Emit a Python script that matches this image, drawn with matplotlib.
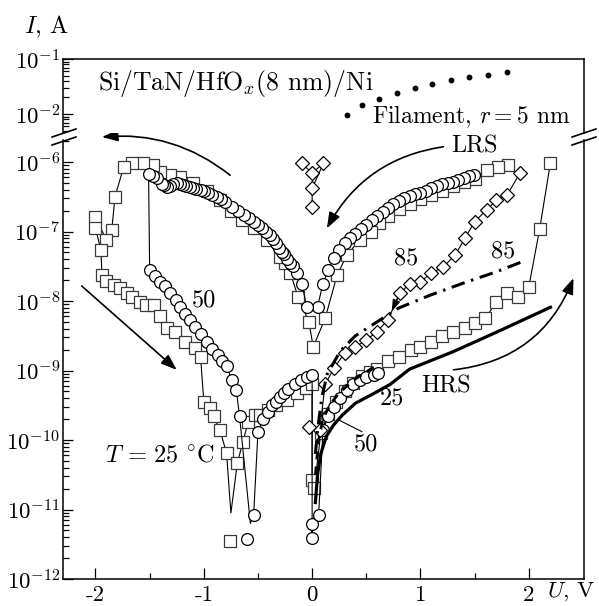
import numpy as np
import matplotlib.pyplot as plt
from matplotlib.lines import Line2D
from matplotlib.ticker import LogLocator, NullFormatter

plt.rcParams['font.family'] = 'cmr10'
plt.rcParams['mathtext.fontset'] = 'cm'
plt.rcParams['axes.unicode_minus'] = False
plt.rcParams['axes.formatter.use_mathtext'] = True

# values: U in V, log10(I / A)
# squares, T = 25 C
sq_lrs_pos_u = [1.81, 1.72, 1.61, 1.5, 1.4, 1.3, 1.2, 1.1, 1.0, 0.9, 0.8, 0.7, 0.62, 0.54, 0.44, 0.32, 0.23, 0.12, 0.01]
sq_lrs_pos_logi = [-6.04, -6.07, -6.12, -6.24, -6.29, -6.35, -6.41, -6.47, -6.53, -6.6, -6.68, -6.78, -6.88, -7.0, -7.12, -7.34, -7.63, -8.25, -8.66]
sq_lrs_neg_u = [-0.03, -0.13, -0.2, -0.25, -0.3, -0.42, -0.54, -0.65, -0.75, -0.85, -0.97, -1.1, -1.22, -1.31, -1.4, -1.47, -1.56, -1.66, -1.74]
sq_lrs_neg_logi = [-8.3, -7.94, -7.6, -7.45, -7.37, -7.12, -6.95, -6.83, -6.7, -6.55, -6.42, -6.3, -6.21, -6.19, -6.14, -6.04, -6.01, -6.01, -6.07]
sq_reset_u = [-1.82, -1.85, -1.9, -2.0, -2.0, -1.95, -1.94]
sq_reset_logi = [-6.5, -6.98, -7.12, -6.79, -6.95, -7.27, -7.63]
sq_hrs_neg_u = [-1.9, -1.83, -1.77, -1.71, -1.66, -1.59, -1.53, -1.46, -1.4, -1.34, -1.27, -1.17, -1.08, -1.03, -1.0,
                -0.94, -0.91, -0.85, -0.79, -0.75, -0.69, -0.64, -0.59, -0.53, -0.48, -0.41, -0.33, -0.23, -0.14, -0.06, 0.0]
sq_hrs_neg_logi = [-7.71, -7.77, -7.81, -7.88, -7.94, -8.01, -8.06, -8.06, -8.21, -8.39, -8.44, -8.59, -8.68, -8.8, -9.45,
                   -9.54, -9.66, -9.86, -10.19, -11.05, -10.33, -10.03, -9.74, -9.64, -9.64, -9.57, -9.5, -9.43, -9.33, -9.25, -9.2]
sq_hrs_pos_u = [0.0, 0.02, 0.08, 0.15, 0.22, 0.3, 0.38, 0.46, 0.53, 0.6, 0.7, 0.8, 0.91, 1.0, 1.1, 1.2, 1.3, 1.41, 1.5,
                1.6, 1.7, 1.8, 1.9, 2.0, 2.1, 2.2]
sq_hrs_pos_logi = [-10.58, -10.69, -9.9, -9.62, -9.45, -9.3, -9.18, -9.08, -9.02, -8.98, -8.86, -8.8, -8.7, -8.66, -8.59,
                   -8.51, -8.44, -8.39, -8.32, -8.25, -8.01, -7.89, -7.94, -7.8, -6.97, -6.01]

# circles, T = 50 C
ci_lrs_pos_u = [1.49, 1.45, 1.4, 1.35, 1.3, 1.25, 1.2, 1.15, 1.1, 1.05, 1.0, 0.95, 0.9, 0.85, 0.8, 0.75, 0.7, 0.65, 0.6,
                0.55, 0.5, 0.45, 0.4, 0.35, 0.3, 0.25, 0.2, 0.15, 0.1, 0.05]
ci_lrs_pos_logi = [-6.19, -6.2, -6.23, -6.26, -6.29, -6.3, -6.32, -6.35, -6.38, -6.41, -6.44, -6.46, -6.49, -6.52, -6.56,
                   -6.61, -6.66, -6.72, -6.78, -6.84, -6.91, -6.97, -7.03, -7.1, -7.17, -7.27, -7.38, -7.55, -7.75, -8.08]
ci_lrs_neg_u = [-0.05, -0.095, -0.14, -0.18, -0.2, -0.23, -0.26, -0.28, -0.31, -0.33, -0.36, -0.39, -0.43, -0.46, -0.5,
                -0.54, -0.58, -0.63, -0.68, -0.74, -0.8, -0.84, -0.88, -0.92, -0.96, -1.0, -1.03, -1.07, -1.1, -1.13,
                -1.16, -1.19, -1.22, -1.25, -1.28, -1.31, -1.34, -1.37, -1.39, -1.43, -1.47, -1.51]
ci_lrs_neg_logi = [-8.08, -7.75, -7.6, -7.5, -7.45, -7.39, -7.33, -7.29, -7.23, -7.17, -7.11, -7.05, -7.0, -6.95, -6.9,
                   -6.86, -6.81, -6.76, -6.7, -6.64, -6.58, -6.53, -6.5, -6.47, -6.44, -6.42, -6.4, -6.39, -6.38, -6.36,
                   -6.35, -6.33, -6.31, -6.3, -6.31, -6.34, -6.36, -6.33, -6.31, -6.23, -6.2, -6.17]
ci_hrs_neg_u = [-1.5, -1.45, -1.4, -1.36, -1.31, -1.26, -1.22, -1.17, -1.13, -1.08, -1.03, -0.97, -0.92, -0.87, -0.83,
                -0.79, -0.74, -0.7, -0.67, -0.57, -0.54, -0.5, -0.45, -0.41, -0.37, -0.33, -0.3, -0.26, -0.22, -0.16,
                -0.1, -0.05, 0.0]
ci_hrs_neg_logi = [-7.56, -7.64, -7.72, -7.79, -7.89, -7.99, -8.08, -8.18, -8.27, -8.37, -8.47, -8.59, -8.69, -8.78, -8.86,
                   -8.94, -9.14, -9.28, -9.66, -11.2, -11.08, -9.88, -9.7, -9.6, -9.5, -9.45, -9.38, -9.32, -9.26, -9.19,
                   -9.14, -9.1, -9.06]
ci_hrs_pos_u = [0.0, 0.0, 0.06, 0.1, 0.15, 0.2, 0.26, 0.32, 0.38, 0.44, 0.5, 0.57, 0.61]
ci_hrs_pos_logi = [-11.41, -11.21, -11.08, -9.86, -9.66, -9.52, -9.4, -9.28, -9.19, -9.14, -9.09, -9.06, -9.04]

# diamonds, T = 85 C
di_u = [1.92, 1.8, 1.7, 1.61, 1.5, 1.41, 1.32, 1.21, 1.1, 1.0, 0.9, 0.81, 0.7, 0.6, 0.5, 0.4, 0.3, 0.2, 0.12, 0.07, -0.03]
di_logi = [-6.16, -6.47, -6.55, -6.69, -6.86, -7.1, -7.34, -7.51, -7.6, -7.72, -7.75, -7.89, -8.27, -8.44, -8.56, -8.66,
           -8.75, -8.97, -9.2, -9.86, -9.81]
di_top_u = [-0.095, 0.0, 0.104, 0.0, 0.0]
di_top_logi = [-6.02, -6.16, -6.02, -6.38, -6.64]

# model curves
m25_u = [0.03, 0.05, 0.08, 0.13, 0.2, 0.28, 0.4, 0.57, 0.72, 0.9, 1.3, 1.7, 2.2]
m25_logi = [-10.9, -10.5, -10.2, -9.95, -9.78, -9.64, -9.47, -9.33, -9.2, -8.98, -8.73, -8.45, -8.09]
m50_u = [0.03, 0.06, 0.1, 0.16, 0.25, 0.4, 0.6]
m50_logi = [-10.5, -10.0, -9.7, -9.5, -9.32, -9.12, -8.92]
m85_u = [0.03, 0.05, 0.09, 0.14, 0.26, 0.4, 0.6, 0.8, 1.1, 1.4, 1.7, 1.98]
m85_logi = [-10.2, -9.86, -9.38, -9.05, -8.72, -8.5, -8.3, -8.1, -7.91, -7.74, -7.58, -7.41]
fil_u = [0.32, 0.46, 0.62, 0.78, 0.95, 1.11, 1.28, 1.45, 1.62, 1.8]
fil_logi = [-2.02, -1.84, -1.72, -1.61, -1.53, -1.45, -1.39, -1.33, -1.29, -1.23]

W, H = 599.0, 606.0


def frac(l, t, r, b):
    return [l / W, 1 - b / H, (r - l) / W, (b - t) / H]


fig = plt.figure(figsize=(5.99, 6.06), dpi=100)
ax = fig.add_axes(frac(63, 140, 584, 579))
axt = fig.add_axes(frac(63, 59, 584, 133))
FS = 16.5
TS = 17.5


def series(u, logi, marker, ms, mec, skip=(), z=2):
    u = np.asarray(u, float)
    i = 10.0 ** np.asarray(logi, float)
    keep = [k for k in range(len(u)) if k not in skip]
    ax.plot(u, i, color='black', lw=0.8, marker=marker, ms=ms, mfc='white',
            mec=mec, mew=0.9, markevery=keep, zorder=z)


sq_u = sq_lrs_pos_u + sq_lrs_neg_u + sq_reset_u + sq_hrs_neg_u + sq_hrs_pos_u
sq_logi = sq_lrs_pos_logi + sq_lrs_neg_logi + sq_reset_logi + sq_hrs_neg_logi + sq_hrs_pos_logi
sq_dip = len(sq_lrs_pos_u) + len(sq_lrs_neg_u) + len(sq_reset_u) + 19
series(sq_u, sq_logi, 's', 8.2, '#3a3a3a', skip=(sq_dip,), z=2)
ax.plot([-0.76], [10 ** -11.46], 's', ms=8.2, mfc='white', mec='#3a3a3a', mew=0.9, zorder=2)

ci_u = ci_lrs_pos_u + ci_lrs_neg_u + ci_hrs_neg_u + ci_hrs_pos_u
ci_logi = ci_lrs_pos_logi + ci_lrs_neg_logi + ci_hrs_neg_logi + ci_hrs_pos_logi
ci_dip = len(ci_lrs_pos_u) + len(ci_lrs_neg_u) + 19
series(ci_u, ci_logi, 'o', 8.5, 'black', skip=(ci_dip,), z=3)
ax.plot([-0.6], [10 ** -11.42], 'o', ms=8.5, mfc='white', mec='black', mew=0.9, zorder=3)

series(di_u, di_logi, 'D', 6.7, 'black', z=4)
series(di_top_u, di_top_logi, 'D', 6.7, 'black', z=4)

ax.plot(m25_u, 10.0 ** np.array(m25_logi), color='black', lw=2.3, zorder=6)
ax.plot(m50_u, 10.0 ** np.array(m50_logi), color='black', lw=2.0, dashes=(3, 2.5), zorder=6)
ax.plot(m85_u, 10.0 ** np.array(m85_logi), color='black', lw=2.2, dashes=(4.5, 2.2, 0.8, 2.2), zorder=6)
axt.plot(fil_u, 10.0 ** np.array(fil_logi), 'o', color='black', ms=3.2, zorder=6)

# axes
for a in (ax, axt):
    a.set_yscale('log')
    a.set_xlim(-2.3, 2.51)
    for s in a.spines.values():
        s.set_linewidth(1.1)
    a.tick_params(which='both', direction='in', width=0.9, labelsize=FS, right=False, top=False)
    a.tick_params(which='major', length=7)
    a.tick_params(which='minor', length=4)
    a.tick_params(axis='y', pad=2)
    a.yaxis.set_minor_locator(LogLocator(base=10, subs=np.arange(2, 10), numticks=30))
    a.yaxis.set_minor_formatter(NullFormatter())

ax.spines['top'].set_visible(False)
axt.spines['bottom'].set_visible(False)

ax.set_ylim(1e-12, 10 ** -5.683)
ax.set_yticks([10.0 ** k for k in range(-12, -5)])
ax.set_yticklabels([rf'$10^{{{k}}}$' for k in range(-12, -5)])
axt.set_ylim(10 ** -2.345, 1e-1)
axt.set_yticks([1e-2, 1e-1])
axt.set_yticklabels([r'$10^{-2}$', r'$10^{-1}$'])
axt.tick_params(axis='x', which='both', bottom=False, labelbottom=False)

ax.set_xticks([-2, -1, 0, 1, 2])
ax.set_xticklabels(['-2', '-1', '0', '1', '2'])
ax.set_xticks([-1.5, -0.5, 0.5, 1.5], minor=True)
ax.tick_params(axis='x', which='major', length=8, pad=5)

# break marks
for x0 in (52, 572):
    for y0 in (137, 145):
        fig.add_artist(Line2D([x0 / W, (x0 + 24) / W], [1 - y0 / H, 1 - (y0 - 8) / H], color='black', lw=1.2))

# texts
fig.text(46 / W, 1 - 27 / H, r'$I$, A', fontsize=TS, ha='center', va='center')
fig.text(571 / W, 1 - 592 / H, r'$U$, V', fontsize=FS, ha='center', va='center')
axt.text(-1.976, 10 ** -1.44, r'Si/TaN/HfO$_x$(8 nm)/Ni', fontsize=18.5, ha='left', va='center')
axt.text(0.554, 10 ** -2.05, r'Filament, $r = 5$ nm', fontsize=17, ha='left', va='center')
ax.text(1.5, 10 ** -5.78, 'LRS', fontsize=TS, ha='center', va='center')
ax.text(1.24, 10 ** -9.23, 'HRS', fontsize=TS, ha='center', va='center')
ax.text(0.87, 10 ** -7.39, '85', fontsize=TS, ha='center', va='center')
ax.text(1.76, 10 ** -7.29, '85', fontsize=TS, ha='center', va='center')
ax.text(0.74, 10 ** -9.4, '25', fontsize=TS, ha='center', va='center')
ax.text(0.5, 10 ** -10.07, '50', fontsize=TS, ha='center', va='center')
ax.text(-1.0, 10 ** -7.99, '50', fontsize=TS, ha='center', va='center')
ax.text(-1.41, 10 ** -10.22, r'$T\, =\, 25\ ^{\circ}\mathrm{C}$', fontsize=TS, ha='center', va='center')

# arrows
akw = dict(arrowstyle='-|>,head_length=0.6,head_width=0.22', color='black', lw=1.2,
           shrinkA=0, shrinkB=0, mutation_scale=16)
ax.annotate('', xy=(-1.94, 10 ** -5.64), xytext=(-0.757, 10 ** -6.19), annotation_clip=False,
            arrowprops=dict(connectionstyle='arc3,rad=0.2', **akw))
ax.annotate('', xy=(-1.25, 10 ** -8.99), xytext=(-2.127, 10 ** -7.784), annotation_clip=False,
            arrowprops=dict(**akw))
ax.annotate('', xy=(0.136, 10 ** -6.955), xytext=(1.212, 10 ** -5.78), annotation_clip=False,
            arrowprops=dict(connectionstyle='arc3,rad=0.25', **akw))
ax.annotate('', xy=(2.413, 10 ** -7.67), xytext=(1.305, 10 ** -8.99), annotation_clip=False,
            arrowprops=dict(connectionstyle='arc3,rad=0.3', **akw))
ax.annotate('', xy=(0.735, 10 ** -8.15), xytext=(0.79, 10 ** -7.95),
            arrowprops=dict(arrowstyle='-|>,head_length=0.6,head_width=0.2', color='black', lw=0.8,
                            shrinkA=0, shrinkB=0, mutation_scale=12))
ax.annotate('', xy=(0.243, 10 ** -9.71), xytext=(0.46, 10 ** -9.88),
            arrowprops=dict(arrowstyle='-', color='black', lw=0.8, shrinkA=0, shrinkB=0))

fig.savefig('out.png', dpi=100)
